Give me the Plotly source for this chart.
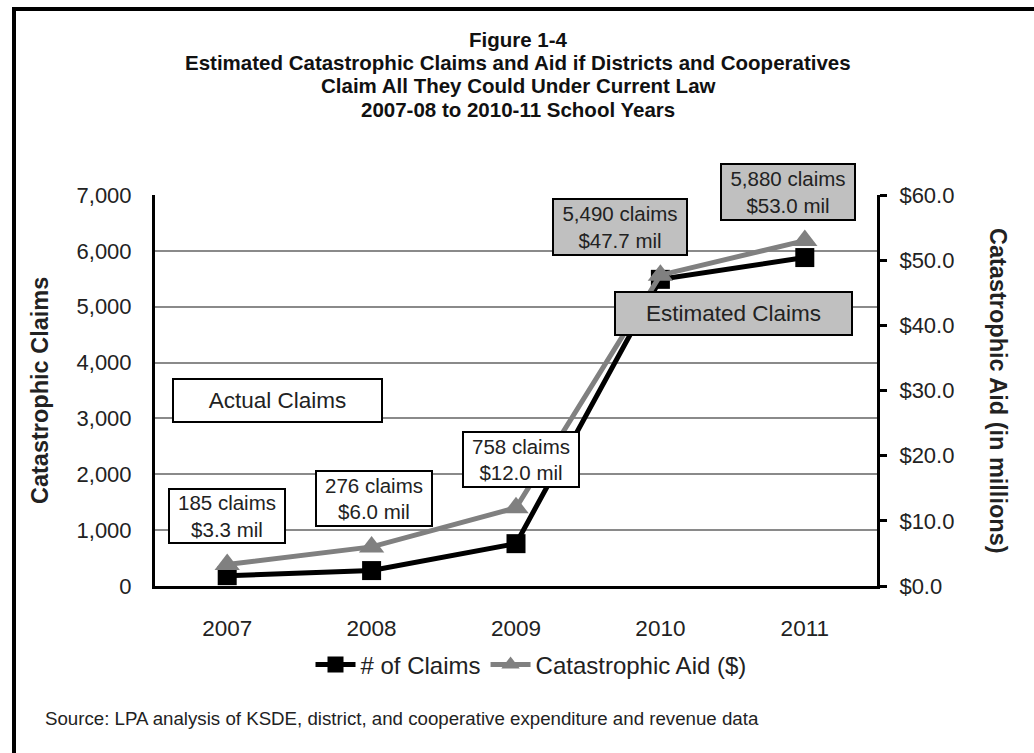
import plotly.graph_objects as go

years = ["2007", "2008", "2009", "2010", "2011"]
claims = [185, 276, 758, 5490, 5880]
aid_mil = [3.3, 6.0, 12.0, 47.7, 53.0]
claim_ticks = [0, 1000, 2000, 3000, 4000, 5000, 6000, 7000]
aid_ticks = [0, 10, 20, 30, 40, 50, 60]

title_lines = [
    "Figure 1-4",
    "Estimated Catastrophic Claims and Aid if Districts and Cooperatives",
    "Claim All They Could Under Current Law",
    "2007-08 to 2010-11 School Years",
]
source_text = "Source: LPA analysis of KSDE, district, and cooperative expenditure and revenue data"

W, H = 1034, 753
L, R, T, B = 155, 157, 195, 167
PW, PH = W - L - R, H - T - B
FONT = "Liberation Sans, Arial, sans-serif"


def px(x):
    return (x - L) / PW


def py(y):
    return (H - B - y) / PH


fig = go.Figure()
fig.add_trace(go.Scatter(
    x=years, y=claims, name="# of Claims", mode="lines+markers",
    line=dict(color="black", width=5),
    marker=dict(symbol="square", size=19, color="black"),
    yaxis="y", cliponaxis=False,
))
fig.add_trace(go.Scatter(
    x=years, y=aid_mil, name="Catastrophic Aid ($)", mode="lines+markers",
    line=dict(color="#808080", width=5),
    marker=dict(symbol="triangle-up", size=22, color="#808080"),
    yaxis="y2", cliponaxis=False,
))

annotations = []
# title lines
title_y = [39, 62.5, 86, 109.5]
for t, yy in zip(title_lines, title_y):
    annotations.append(dict(
        text="<b>%s</b>" % t, xref="paper", yref="paper", x=px(518), y=py(yy),
        xanchor="center", yanchor="middle", showarrow=False,
        font=dict(family=FONT, size=20.5, color="#111"),
    ))

# point label boxes
label_boxes = [  # (index, cx, cy, w, h, bg)
    (0, 227, 516, 118, 56, "white"),
    (1, 374, 498.5, 118, 57, "white"),
    (2, 521, 459.5, 118, 57, "white"),
    (3, 620, 227, 136, 58, "#c0c0c0"),
    (4, 788, 192, 136, 58, "#c0c0c0"),
]
for i, cx, cy, w, h, bg in label_boxes:
    annotations.append(dict(
        text="{:,} claims<br>${:.1f} mil".format(claims[i], aid_mil[i]),
        xref="paper", yref="paper", x=px(cx), y=py(cy),
        xanchor="center", yanchor="middle", showarrow=False,
        width=w - 4, height=h - 4, borderpad=0, borderwidth=2,
        bordercolor="black", bgcolor=bg,
        font=dict(family=FONT, size=20.5, color="#222"),
    ))

for txt, cx, cy, w, h, bg in [
    ("Actual Claims", 277.5, 400.5, 211, 45, "white"),
    ("Estimated Claims", 733.5, 313.5, 239, 45, "#c0c0c0"),
]:
    annotations.append(dict(
        text=txt, xref="paper", yref="paper", x=px(cx), y=py(cy),
        xanchor="center", yanchor="middle", showarrow=False,
        width=w - 4, height=h - 4, borderpad=0, borderwidth=2,
        bordercolor="black", bgcolor=bg,
        font=dict(family=FONT, size=22.5, color="#222"),
    ))

# axis titles
annotations.append(dict(
    text="<b>Catastrophic Claims</b>", xref="paper", yref="paper",
    x=px(40), y=py(391), textangle=-90, showarrow=False,
    xanchor="center", yanchor="middle",
    font=dict(family=FONT, size=23.5, color="#222"),
))
annotations.append(dict(
    text="<b>Catastrophic Aid (in millions)</b>", xref="paper", yref="paper",
    x=px(998), y=py(391), textangle=90, showarrow=False,
    xanchor="center", yanchor="middle",
    font=dict(family=FONT, size=23.5, color="#222"),
))
# source
annotations.append(dict(
    text=source_text, xref="paper", yref="paper", x=px(43), y=py(718),
    xanchor="left", yanchor="middle", showarrow=False,
    font=dict(family=FONT, size=18.7, color="#222"),
))

fig.update_layout(
    width=W, height=H,
    margin=dict(l=L, r=R, t=T, b=B),
    paper_bgcolor="white", plot_bgcolor="white",
    font=dict(family=FONT, size=22, color="#222"),
    showlegend=True,
    legend=dict(
        orientation="h", x=px(531), y=py(665), xanchor="center", yanchor="middle",
        font=dict(family=FONT, size=24, color="#222"), bgcolor="rgba(0,0,0,0)",
        itemwidth=40, tracegroupgap=0,
    ),
    xaxis=dict(
        type="category", categoryorder="array", categoryarray=years,
        range=[-0.5, 4.5], showgrid=False, zeroline=False,
        showline=True, linecolor="black", linewidth=3,
        ticks="", ticklabelstandoff=20,
        tickfont=dict(family=FONT, size=22.5, color="#222"),
    ),
    yaxis=dict(
        range=[0, 7000], tickvals=claim_ticks, tickformat=",",
        showgrid=True, gridcolor="#8a8a8a", gridwidth=1.5, zeroline=False,
        showline=True, linecolor="black", linewidth=3, ticks="",
        ticklabelstandoff=16,
        tickfont=dict(family=FONT, size=22, color="#222"),
    ),
    yaxis2=dict(
        range=[0, 60], tickvals=aid_ticks, tickformat="$.1f",
        overlaying="y", side="right", showgrid=False, zeroline=False,
        showline=True, linecolor="black", linewidth=3,
        ticks="outside", ticklen=7, tickwidth=3, tickcolor="black",
        ticklabelstandoff=8,
        tickfont=dict(family=FONT, size=22, color="#222"),
    ),
    annotations=annotations,
    shapes=[dict(
        type="rect", xref="paper", yref="paper",
        x0=px(14), x1=px(1045), y0=py(765), y1=py(9),
        line=dict(color="black", width=4), fillcolor="rgba(0,0,0,0)", layer="below",
    )],
)

fig.write_html("out.html")
